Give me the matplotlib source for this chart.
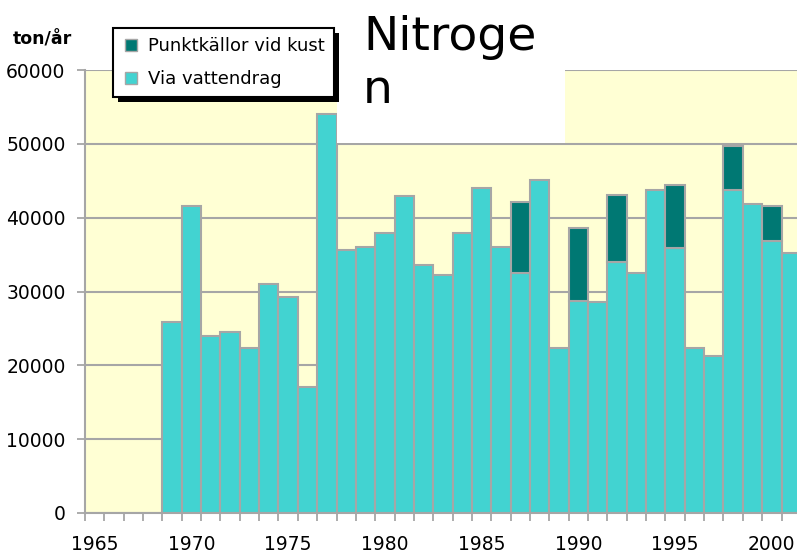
import numpy as np
import matplotlib.pyplot as plt
from matplotlib.lines import Line2D
from matplotlib.patches import Rectangle
from matplotlib.transforms import IdentityTransform

# Nitrogen load, ton/år
years = list(range(1969, 2002))
via = [25900, 41600, 24000, 24500, 22400, 31000, 29300, 17100, 54100, 35600,
       36000, 37900, 42900, 33600, 32300, 37900, 44000, 36000, 32500, 45100,
       22400, 28700, 28600, 34000, 32500, 43800, 35900, 22400, 21300, 43700,
       41800, 36800, 35200]
punkt = [0]*18 + [9600, 0, 0, 9900, 0, 9100, 0, 0, 8500, 0, 0, 6000, 0, 4800, 0]
labels = ['Punktkällor vid kust', 'Via vattendrag']

cyan = '#42D3D1'
teal = '#007873'
grey = '#A6A6A6'
yellow = '#FFFFD4'

W, H = 797, 556
fig = plt.figure(figsize=(W/100, H/100), dpi=100)
ax = fig.add_axes([85/W, 1-513/H, 1-85/W, (513-70)/H])
ax.set_facecolor(yellow)

ax.bar(years, via, width=1, color=cyan, edgecolor=grey, linewidth=1.5, zorder=2)
# point sources stacked on top, only where there are any
yrs2 = [y for y, p in zip(years, punkt) if p > 0]
ptop = [p for p in punkt if p > 0]
bot = [v for v, p in zip(via, punkt) if p > 0]
ax.bar(yrs2, ptop, bottom=bot, width=1, color=teal, edgecolor=grey, linewidth=1.5, zorder=2)

ax.set_xlim(1964.5, 2001.3)
ax.set_ylim(0, 60000)
ax.set_yticks(range(0, 60001, 10000))
ax.set_yticklabels([str(v) for v in range(0, 60001, 10000)])
ax.set_xticks(range(1965, 2001, 5))
ax.set_xticks(np.arange(1964.5, 2001, 1), minor=True)
ax.yaxis.grid(True, color=grey, linewidth=1.5, zorder=1)
ax.set_axisbelow(True)

ax.tick_params(axis='x', which='major', length=0, pad=16, labelsize=13.5)
ax.tick_params(axis='x', which='minor', length=6, width=1.3, color=grey)
ax.tick_params(axis='y', length=6, width=1.3, color=grey, pad=8, labelsize=13.5)
for s in ['right', 'top']:
    ax.spines[s].set_visible(False)
for s in ['left', 'bottom']:
    ax.spines[s].set_color(grey)
    ax.spines[s].set_linewidth(1.5)

fig.text(13/W, 1-45/H, 'ton/år', fontsize=12.5, fontweight='bold', va='baseline')

# white title box over the plot
fig.add_artist(Rectangle((337/W, 1-143/H), 228/W, 143/H, transform=fig.transFigure,
                         facecolor='white', edgecolor='none', zorder=3))
fig.text(363/W, 1-50/H, 'Nitroge', fontsize=34, va='baseline', zorder=4)
fig.text(363/W, 1-103/H, 'n', fontsize=34, va='baseline', zorder=4)

handles = [Line2D([], [], marker='s', linestyle='none', markersize=8,
                  markerfacecolor=teal, markeredgecolor=grey),
           Line2D([], [], marker='s', linestyle='none', markersize=8,
                  markerfacecolor=cyan, markeredgecolor=grey)]
leg = fig.legend(handles, labels, loc='upper left', bbox_to_anchor=(113/W, 1-28/H),
                 fontsize=13, frameon=True, fancybox=False, borderpad=0.5,
                 handlelength=1.0, handletextpad=0.45, labelspacing=0.83,
                 borderaxespad=0)
leg.get_frame().set_edgecolor('black')
leg.get_frame().set_linewidth(1.5)
leg.get_frame().set_alpha(1)
leg.set_zorder(6)

fig.canvas.draw()
bb = leg.get_frame().get_window_extent()
fig.add_artist(Rectangle((bb.x0+5, bb.y0-5), bb.width, bb.height,
                         transform=IdentityTransform(), facecolor='black',
                         edgecolor='none', zorder=5.9))

fig.savefig('out.png', dpi=100)
